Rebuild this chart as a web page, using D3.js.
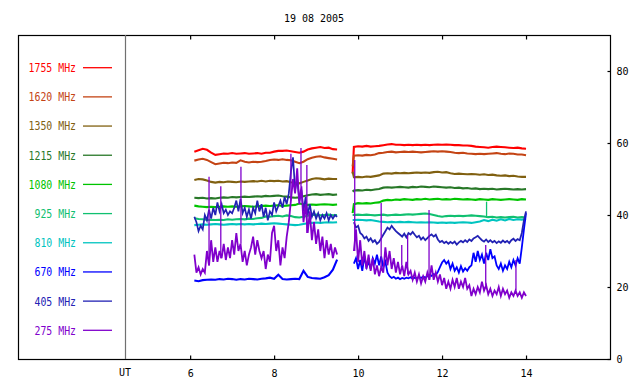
<!DOCTYPE html>
<html>
<head>
<meta charset="utf-8">
<script src="https://cdn.jsdelivr.net/npm/d3@7"></script>
<style>
  body { margin: 0; background: #fff; }
  text { font-family: "DejaVu Sans Mono", monospace; }
</style>
</head>
<body>
<script>
// 19 08 2005 radio flux plot

var title = '19 08 2005';
var freqs = ['1755', '1620', '1350', '1215', '1080', '925', '810', '670', '405', '275'];
var colors = ['#ff0000', '#c44414', '#806010', '#287828', '#00c400', '#10c070', '#00c4c0', '#0000ff', '#2222b4', '#8000cc'];
var xTicks = [6, 8, 10, 12, 14];
var yTicks = [0, 20, 40, 60, 80];

// sample hours: coarse grid (0.1 h) and fine grid (0.05 h), two observing blocks
var hoursA = d3.range(61, 96).map(function(d){ return d / 10; });
var hoursB = d3.range(99, 141).map(function(d){ return d / 10; });
var fineA = d3.range(610, 951, 5).map(function(d){ return d / 100; });
var fineB = d3.range(990, 1401, 5).map(function(d){ return d / 100; });
var onsetHour = 9.87;

// smooth channels, block A (6.1 - 9.5)
var s1755a = [57.6, 58.0, 58.4, 58.1, 57.3, 56.7, 56.9, 57.1, 57.0, 57.2, 57.0, 57.1, 57.2, 57.0, 57.1, 57.2, 57.0, 57.3, 57.3, 57.6, 57.8, 57.8, 57.9, 57.7, 57.5, 57.3, 57.6, 58.2, 58.5, 58.7, 58.9, 58.6, 58.7, 58.3, 58.2];
var s1620a = [55.1, 55.4, 55.6, 55.3, 54.7, 54.1, 54.3, 54.5, 54.4, 54.6, 54.5, 55.2, 54.8, 54.6, 54.8, 54.7, 54.8, 55.0, 55.3, 55.4, 55.3, 55.5, 55.3, 55.2, 54.8, 54.4, 54.8, 55.5, 55.9, 56.2, 56.3, 56.0, 55.8, 55.6, 55.4];
var s1350a = [49.7, 50.0, 49.9, 49.6, 49.2, 49.0, 49.2, 49.1, 49.3, 49.2, 49.1, 49.3, 49.2, 49.3, 49.4, 49.3, 49.5, 49.3, 49.5, 49.4, 49.5, 49.3, 49.4, 49.1, 48.9, 48.8, 49.2, 49.6, 50.0, 50.2, 50.1, 49.9, 50.1, 50.0, 50.0];
var s1215a = [44.8, 44.7, 44.8, 44.6, 44.7, 44.6, 44.8, 44.9, 44.8, 45.0, 44.9, 45.0, 45.1, 45.0, 45.1, 45.2, 45.1, 45.3, 45.2, 45.3, 45.4, 45.2, 45.1, 44.9, 44.8, 44.9, 45.2, 45.5, 45.7, 45.8, 45.6, 45.7, 45.8, 45.6, 45.7];
var s1080a = [42.6, 42.4, 42.3, 42.2, 42.3, 42.2, 42.3, 42.4, 42.3, 42.4, 42.3, 42.4, 42.5, 42.4, 42.3, 42.4, 42.5, 42.6, 42.5, 42.6, 42.7, 42.5, 42.6, 42.7, 42.8, 43.2, 43.0, 42.8, 42.9, 42.8, 42.9, 43.0, 42.9, 42.8, 42.9];
var s925a = [39.1, 38.9, 38.8, 38.6, 38.7, 38.6, 38.7, 38.6, 38.8, 38.7, 38.8, 38.9, 38.8, 39.0, 38.9, 39.1, 39.2, 39.6, 39.5, 39.7, 39.8, 39.6, 39.9, 39.7, 39.4, 39.3, 39.5, 39.8, 40.0, 40.1, 39.9, 40.0, 40.1, 39.9, 40.0];
var s810a = [37.2, 37.3, 37.4, 37.3, 37.4, 37.5, 37.4, 37.3, 37.4, 37.5, 37.4, 37.5, 37.4, 37.5, 37.4, 37.5, 37.6, 37.5, 37.6, 37.7, 37.6, 37.5, 37.4, 37.3, 37.2, 37.3, 37.5, 37.7, 37.8, 37.9, 37.8, 37.9, 38.0, 37.9, 38.0];
var s670a = [21.8, 21.6, 21.9, 22.0, 22.1, 22.0, 22.2, 22.1, 22.3, 22.2, 22.0, 22.2, 22.1, 22.3, 22.2, 22.1, 22.3, 22.4, 22.6, 22.3, 23.4, 22.2, 22.1, 22.2, 22.3, 22.2, 24.5, 22.8, 22.5, 22.4, 22.3, 22.7, 23.3, 24.8, 27.6];

// smooth channels, block B (9.9 - 14.0)
var s1755b = [58.9, 59.1, 59.0, 59.2, 59.0, 59.1, 59.2, 59.4, 59.6, 59.7, 59.5, 59.5, 59.4, 59.5, 59.4, 59.5, 59.4, 59.5, 59.4, 59.5, 59.6, 59.5, 59.6, 59.5, 59.4, 59.4, 59.3, 59.3, 59.2, 59.0, 58.9, 58.8, 58.7, 58.9, 59.0, 58.9, 58.8, 58.7, 58.6, 58.7, 58.5, 58.4];
var s1620b = [56.5, 56.6, 56.5, 56.7, 56.6, 56.8, 57.2, 57.3, 57.5, 57.6, 57.4, 57.5, 57.6, 57.5, 57.6, 57.5, 57.4, 57.5, 57.6, 57.7, 57.6, 57.7, 57.6, 57.5, 57.3, 57.2, 57.3, 57.1, 57.0, 56.9, 57.0, 56.9, 57.0, 57.1, 57.2, 57.0, 56.9, 57.1, 57.0, 56.8, 56.8, 56.6];
var s1350b = [50.5, 50.6, 50.5, 50.7, 50.6, 50.8, 51.0, 51.5, 51.6, 51.5, 51.7, 51.6, 51.7, 51.6, 51.7, 51.8, 51.7, 51.8, 51.7, 51.9, 52.0, 51.8, 51.9, 51.6, 51.4, 51.5, 51.4, 51.3, 51.4, 51.3, 51.2, 51.3, 51.1, 51.2, 51.0, 50.9, 51.0, 50.8, 50.9, 50.7, 50.6, 50.6];
var s1215b = [46.8, 46.9, 46.8, 47.0, 46.9, 47.1, 47.2, 47.6, 47.7, 47.6, 47.7, 47.8, 47.7, 47.6, 47.8, 47.7, 47.9, 47.8, 47.7, 47.9, 47.8, 47.7, 47.6, 47.7, 47.5, 47.6, 47.4, 47.5, 47.3, 47.4, 47.2, 47.3, 47.2, 47.3, 47.1, 47.2, 47.3, 47.2, 47.1, 47.2, 47.1, 47.2];
var s1080b = [43.0, 43.3, 43.2, 43.3, 43.2, 43.4, 43.5, 44.0, 44.2, 44.1, 44.3, 44.2, 44.4, 44.3, 44.2, 44.4, 44.3, 44.5, 44.3, 44.4, 44.5, 44.3, 44.4, 44.3, 44.5, 44.4, 44.3, 44.4, 44.3, 44.2, 44.4, 44.3, 44.2, 44.4, 44.3, 44.2, 44.3, 44.4, 44.3, 44.2, 44.4, 44.3];
var s925b = [40.0, 40.1, 40.0, 40.1, 40.0, 39.9, 40.0, 40.1, 39.9, 40.0, 40.1, 40.0, 40.1, 40.2, 40.1, 40.2, 40.3, 40.4, 40.3, 40.0, 39.7, 39.5, 39.7, 39.8, 39.7, 39.8, 39.7, 39.8, 39.9, 39.8, 39.7, 39.6, 39.4, 39.5, 39.3, 39.4, 39.3, 39.4, 39.5, 39.3, 39.4, 39.3];
var s810b = [38.6, 38.7, 38.6, 38.5, 38.6, 38.4, 38.2, 38.1, 38.0, 38.1, 38.0, 38.1, 38.0, 38.1, 38.0, 37.9, 38.0, 37.9, 38.0, 37.9, 37.8, 37.9, 37.8, 37.9, 37.8, 37.9, 38.0, 37.9, 37.8, 38.0, 38.2, 38.6, 38.3, 38.7, 38.4, 38.8, 38.5, 38.9, 38.6, 38.8, 38.7, 38.9];
// first reading of block B for the smooth channels (1755 .. 810)
var onsetB = [51.5, 53.5, 52.0, 46.5, 40.5, 40.0, 38.6];

// noisy channels on the fine grid
var f405a = [39.5, 38, 35.5, 37, 36, 40, 38.5, 41.5, 39, 42, 40, 43.5, 41, 43, 40.5, 41.5, 40, 41,
  40.5, 42, 44, 41, 44.5, 40.5, 42, 39.5, 41.5, 39, 42, 40.5, 44, 41, 43, 39.5, 42, 38.5, 41, 40,
  43.5, 41, 42.5, 44, 42, 45, 43, 46, 52, 56, 47, 50, 44, 47, 41, 45, 40, 43, 39.5, 41,
  39, 40.5, 38.5, 40, 39, 40.5, 38.5, 40, 39, 40, 39.5];
var f275a = [29, 24, 25.5, 23.5, 25, 24, 30, 26, 33, 27, 31, 27, 30, 28, 32, 27.5, 31, 28,
  33, 29, 35, 30, 32, 27, 30, 26, 29, 31, 34, 29, 33, 30, 28, 30, 25, 29, 27, 35,
  37, 30, 33, 26, 31, 28, 34, 38, 44, 50, 46, 53, 43, 48, 38, 43, 35, 41, 33, 38,
  32, 36, 30, 34, 28, 33, 29, 32, 28, 31, 29];
var f670b = [26.5, 28,
  25, 27.5, 24.5, 28.5, 25.5, 27, 25, 28, 26.5, 29, 26, 28.5, 25.5, 27, 24, 23, 22.5, 22.8, 22.3, 22.6,
  22.2, 22.5, 22.3, 22.6, 22.4, 22.7, 22.3, 22.6, 22.4, 22.8, 22.5, 22.9, 22.6, 23.0, 23.4, 23.1, 23.6, 23.3, 24.2, 25.5,
  26.8, 27.5, 26.5, 27.2, 25, 26.5, 24.5, 25.5, 24, 25.8, 24.3, 25.2, 24.5, 25.5, 26, 29.5, 27, 30, 27.5, 29,
  26.5, 29.5, 27.5, 30.5, 28, 28.5, 26, 25, 26.5, 24.5, 26, 25, 27, 25.5, 27.5, 26, 28, 26.5, 31, 36,
  40.5];
var f405b = [38, 36.5,
  37, 35, 34.5, 33.5, 34, 32.8, 33.5, 32.5, 33, 32, 32.5, 33.5, 34.5, 35.5, 36.5, 36, 37, 36.2, 35.5, 35,
  34.5, 34, 34.8, 33.8, 35, 34.6, 35.3, 34.5, 33.8, 34.2, 33.2, 33.8, 33, 33.6, 34.2, 34.6, 34, 34.5, 33.2, 32.5,
  32.8, 32.2, 32.6, 32, 32.5, 32.1, 32.6, 31.8, 32.4, 32.8, 32.4, 33, 32.5, 33.2, 32.8, 33.5, 33.8, 34.2, 33.6, 33,
  32.6, 33.2, 32.5, 33, 32.4, 32.8, 32.2, 32.7, 32.3, 32.9, 32.4, 32.8, 32.2, 33, 33.4, 32.8, 33.3, 33, 35, 38.5,
  41];
var f275b = [30, 36,
  27, 33, 26, 30, 25, 29, 24.5, 28, 23.5, 26, 23, 25.5, 24, 31, 26, 30, 25, 28, 24, 27,
  23.5, 26, 23, 27, 23.5, 24.5, 22, 24, 21.5, 23.5, 21, 23, 21.5, 24, 22, 26, 22, 24, 21.5, 23.5,
  20.5, 22.5, 19.5, 21.5, 19.5, 22, 20, 22.5, 19.5, 21.5, 20, 22.5, 19.5, 20.5, 17.5, 19.5, 18, 20, 18.5, 21.5,
  19, 20.5, 18, 19.5, 17.5, 19, 18, 20, 17.5, 19.5, 18, 19, 17, 18.5, 17.5, 19, 17.5, 18.5, 17, 18.5,
  17.5];

// short bursts (single-sample spikes)
var spikeFreq = ['275', '275', '275', '275', '275', '275', '275', '275', '275', '275', '275', '275', '275', '925'];
var spikeHour = [6.45, 6.73, 7.21, 8.40, 8.64, 8.78, 9.92, 10.55, 11.04, 11.18, 11.69, 13.04, 13.76, 13.06];
var spikeTop = [50.6, 48, 53.4, 57, 58.6, 53.9, 55.3, 43.3, 31.7, 34.4, 41.4, 31.7, 27.5, 43.7];

var W = 640, H = 384;
var frame = { left: 18, right: 610, top: 35, bottom: 359 };
var utX = 125;

var svg = d3.select('body').append('svg')
  .attr('width', W)
  .attr('height', H);

svg.append('rect').attr('width', W).attr('height', H).attr('fill', '#fff');

var x = d3.scaleLinear().domain([1.9, 16]).range([frame.left, frame.right]);
var y = d3.scaleLinear().domain([0, 90]).range([frame.bottom, frame.top]);

// build series
var coarseA = [s1755a, s1620a, s1350a, s1215a, s1080a, s925a, s810a, s670a];
var coarseB = [s1755b, s1620b, s1350b, s1215b, s1080b, s925b, s810b];

function pairs(hours, vals){
  return vals.map(function(v, i){ return [hours[i], v]; });
}

var series = freqs.map(function(f, i){
  var segs = [];
  if (i < 8) segs.push({ pts: pairs(hoursA, coarseA[i]), w: 2.1 });
  if (i < 7) segs.push({ pts: [[onsetHour, onsetB[i]]].concat(pairs(hoursB, coarseB[i])), w: 2.1 });
  if (f === '670') segs.push({ pts: pairs(fineB, f670b), w: 1.8 });
  if (f === '405') {
    segs.push({ pts: pairs(fineA, f405a), w: 1.7 });
    segs.push({ pts: pairs(fineB, f405b), w: 1.8 });
  }
  if (f === '275') {
    segs.push({ pts: pairs(fineA, f275a), w: 1.8 });
    segs.push({ pts: pairs(fineB, f275b), w: 1.8 });
  }
  return { freq: f, color: colors[i], segs: segs };
});

var line = d3.line()
  .x(function(d){ return x(d[0]); })
  .y(function(d){ return y(d[1]); });

var dataLayer = svg.append('g').attr('id', 'data-layer');

series.forEach(function(s){
  var g = dataLayer.append('g').attr('class', 'f' + s.freq);
  s.segs.forEach(function(seg){
    g.append('path')
      .attr('d', line(seg.pts))
      .attr('fill', 'none')
      .attr('stroke', s.color)
      .attr('stroke-width', seg.w)
      .attr('stroke-linejoin', 'miter');
  });
});

// spikes, drawn from the nearest sample of their channel
spikeFreq.forEach(function(f, i){
  var s = series[freqs.indexOf(f)];
  var best = null;
  s.segs.forEach(function(seg){
    seg.pts.forEach(function(p){
      if (!best || Math.abs(p[0] - spikeHour[i]) < Math.abs(best[0] - spikeHour[i])) best = p;
    });
  });
  dataLayer.append('line')
    .attr('x1', x(spikeHour[i])).attr('x2', x(spikeHour[i]))
    .attr('y1', y(best[1])).attr('y2', y(spikeTop[i]))
    .attr('stroke', s.color)
    .attr('stroke-width', 1.3);
});

// frame and separator
svg.append('rect')
  .attr('x', frame.left + 0.5).attr('y', frame.top + 0.5)
  .attr('width', frame.right - frame.left).attr('height', frame.bottom - frame.top)
  .attr('fill', 'none').attr('stroke', '#000').attr('stroke-width', 1.2);

svg.append('line')
  .attr('x1', utX + 0.5).attr('x2', utX + 0.5)
  .attr('y1', frame.top).attr('y2', frame.bottom)
  .attr('stroke', '#707070').attr('stroke-width', 1.2);

// axes
var bottomAxis = d3.axisBottom(x).tickValues(xTicks).tickSizeInner(-4).tickSizeOuter(0).tickPadding(10);
var topAxis = d3.axisTop(x).tickValues(xTicks).tickSizeInner(-4).tickSizeOuter(0).tickFormat('');
var rightAxis = d3.axisRight(y).tickValues(yTicks).tickSizeInner(-3).tickSizeOuter(0).tickPadding(6);

function styleAxis(g){
  g.select('.domain').remove();
  g.selectAll('line').attr('stroke', '#000').attr('stroke-width', 1.2);
  g.selectAll('text').attr('fill', '#000').style('font-size', '10px')
    .style('font-family', '"DejaVu Sans Mono", monospace');
}

svg.append('g').attr('transform', 'translate(0,' + (frame.bottom + 0.5) + ')').call(bottomAxis).call(styleAxis);
svg.append('g').attr('transform', 'translate(0,' + (frame.top + 0.5) + ')').call(topAxis).call(styleAxis);
svg.append('g').attr('transform', 'translate(' + (frame.right + 0.5) + ',0)').call(rightAxis).call(styleAxis);

svg.append('text')
  .attr('x', utX).attr('y', frame.bottom + 17)
  .attr('text-anchor', 'middle')
  .style('font-size', '10px')
  .text('UT');

svg.append('text')
  .attr('x', (frame.left + frame.right) / 2).attr('y', 21.5)
  .attr('text-anchor', 'middle')
  .style('font-size', '10px')
  .text(title);

// legend
var legendY = d3.scaleLinear().domain([0, 9]).range([67.7, 330.3]);
var legend = svg.append('g').attr('id', 'legend');
freqs.forEach(function(f, i){
  var label = f + ' MHz';
  var yy = legendY(i);
  legend.append('text')
    .attr('x', 76.5 - label.length * 6).attr('y', yy + 4.4)
    .attr('textLength', label.length * 6 - 0.5)
    .attr('lengthAdjust', 'spacingAndGlyphs')
    .attr('fill', colors[i])
    .style('font-size', '12px')
    .text(label);
  legend.append('line')
    .attr('x1', 83).attr('x2', 112)
    .attr('y1', yy).attr('y2', yy)
    .attr('stroke', colors[i])
    .attr('stroke-width', 1.3);
});
</script>
</body>
</html>
